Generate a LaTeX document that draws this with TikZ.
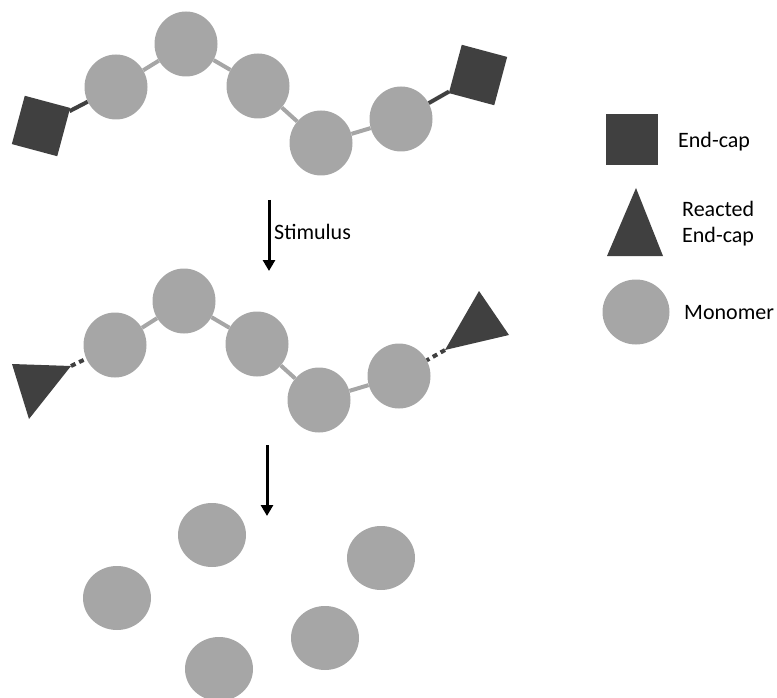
\documentclass[tikz,border=0pt]{standalone}
\usepackage{fontspec}
\setmainfont{Carlito}
\usetikzlibrary{shapes.geometric,arrows.meta}
\definecolor{monogray}{HTML}{A6A6A6}
\definecolor{capgray}{HTML}{404040}
\begin{document}
\begin{tikzpicture}[x=1pt,y=-1pt,
  monomer/.style={ellipse,fill=monogray,draw=none,minimum width=63pt,minimum height=65pt,inner sep=0pt},
  freemono/.style={monomer,minimum width=68pt,minimum height=64pt},
  endcap/.style={rectangle,fill=capgray,draw=none,minimum width=47pt,minimum height=50pt,inner sep=0pt},
  bond/.style={draw=monogray,line width=4pt},
  capbond/.style={draw=capgray,line width=4pt},
  brokenbond/.style={draw=capgray,line width=4pt,dash pattern=on 5pt off 4pt},
  stimarrow/.style={draw=black,line width=3pt,-{Triangle[width=12pt,length=11pt]}},
  lbl/.style={font=\fontsize{22}{25}\selectfont,inner sep=0pt,anchor=base west,align=left}]
\useasboundingbox (0,0) rectangle (777,698);

% ---- top chain ----
\node[monomer] (t1) at (116,87) {};
\node[monomer] (t2) at (186,44) {};
\node[monomer] (t3) at (258,86) {};
\node[monomer] (t4) at (321,143) {};
\node[monomer] (t5) at (401,119) {};
\node[endcap,rotate=-15] (sqL) at (41,126) {};
\node[endcap,rotate=-15] (sqR) at (478,75) {};
\draw[bond] (t1) -- (t2);
\draw[bond] (t2) -- (t3);
\draw[bond] (t3) -- (t4);
\draw[bond] (t4) -- (t5);
\draw[capbond] (sqL) -- (t1);
\draw[capbond] (sqR) -- (t5);

% ---- stimulus arrow ----
\coordinate (a1s) at (269,200);
\coordinate (a1e) at (269,271);
\draw[stimarrow] (a1s) -- (a1e);
\node[lbl] (stim) at (274,239) {Stimulus};

% ---- middle chain ----
\node[monomer] (m1) at (115,345) {};
\node[monomer] (m2) at (184,301) {};
\node[monomer] (m3) at (257,344) {};
\node[monomer] (m4) at (319,400) {};
\node[monomer] (m5) at (399,376) {};
\draw[bond] (m1) -- (m2);
\draw[bond] (m2) -- (m3);
\draw[bond] (m3) -- (m4);
\draw[bond] (m4) -- (m5);
\coordinate (tLa) at (12,364);
\coordinate (tLb) at (71,366);
\coordinate (tLc) at (29,419);
\coordinate (tRa) at (479,291);
\coordinate (tRb) at (509,335);
\coordinate (tRc) at (445,350);
\fill[capgray] (tLa) -- (tLb) -- (tLc) -- cycle;
\fill[capgray] (tRa) -- (tRb) -- (tRc) -- cycle;
\draw[brokenbond] (tLb) -- (m1);
\draw[brokenbond] (tRc) -- (m5);

% ---- second arrow ----
\coordinate (a2s) at (267,445);
\coordinate (a2e) at (267,516);
\draw[stimarrow] (a2s) -- (a2e);

% ---- free monomers ----
\node[freemono] (f1) at (212,535) {};
\node[freemono] (f2) at (381,558) {};
\node[freemono] (f3) at (117,598) {};
\node[freemono] (f4) at (325,638) {};
\node[freemono] (f5) at (219,669) {};

% ---- legend ----
\node[endcap,minimum width=52pt,minimum height=51pt] (lgsq) at (632,140) {};
\node[lbl] (lgsqt) at (678,148) {End-cap};
\coordinate (lgta) at (636,188);
\coordinate (lgtb) at (663,256);
\coordinate (lgtc) at (607,256);
\fill[capgray] (lgta) -- (lgtb) -- (lgtc) -- cycle;
\node[lbl] (lgtt1) at (682,217) {Reacted};
\node[lbl] (lgtt2) at (682,242) {End-cap};
\node[monomer,minimum width=67pt,minimum height=65pt] (lgc) at (636,312) {};
\node[lbl] (lgct) at (684,319) {Monomer};
\end{tikzpicture}
\end{document}
